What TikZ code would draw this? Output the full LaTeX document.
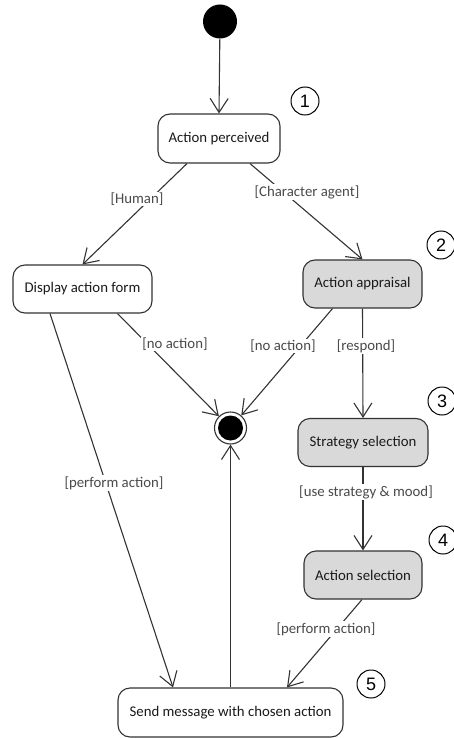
\documentclass[tikz,border=0pt]{standalone}
\usepackage{fontspec}
\setmainfont{Carlito}
\newfontfamily\numfont{Liberation Sans}
\usetikzlibrary{arrows.meta,calc}
\definecolor{ln}{HTML}{333333}
\definecolor{boxgray}{HTML}{D9D9D9}
\definecolor{lblc}{HTML}{4A4A4A}
\definecolor{txt}{HTML}{1A1A1A}
\begin{document}
\begin{tikzpicture}[x=1pt,y=-1pt,
  every node/.style={font=\fontsize{14.8}{16}\selectfont},
  state/.style={draw=ln, line width=1.1pt, rounded corners=12pt, fill=white, text=txt, inner sep=0pt, minimum height=48pt},
  grstate/.style={state, fill=boxgray},
  lbl/.style={fill=white, text=lblc, inner sep=1pt},
  arr/.style={draw=ln, line width=1.1pt, -{Straight Barb[length=14pt,width=18pt,line width=1.1pt]}},
  num/.style={circle, draw=black, line width=1pt, minimum size=28pt, inner sep=0pt, font=\numfont\fontsize{18}{18}\selectfont}
]
\useasboundingbox (0,0) rectangle (454,738);
% nodes
\node[circle, fill=black, minimum size=34pt, inner sep=0pt] (init) at (220,21.5) {};
\node[state, minimum width=122pt, minimum height=49pt] (ap) at (219,138.5) {Action perceived};
\node[state, minimum width=139pt] (daf) at (82.5,289) {Display action form};
\node[grstate, minimum width=119pt] (aa) at (362.5,284) {Action appraisal};
\node[grstate, minimum width=130pt] (ss) at (363,442.5) {Strategy selection};
\node[grstate, minimum width=118pt] (as) at (363,575) {Action selection};
\node[state, minimum width=225pt, minimum height=49pt] (snd) at (230.5,712.5) {Send message with chosen action};
\node[circle, draw=ln, line width=1.1pt, minimum size=32pt, inner sep=0pt] (fin) at (230.5,428) {};
\fill[black] (fin.center) circle (12.5);
% numbers
\node[num] (n1) at (305,101) {1};
\node[num] (n2) at (441,245) {2};
\node[num] (n3) at (442,401) {3};
\node[num] (n4) at (443,540) {4};
\node[num] (n5) at (371,684) {5};
% edges
\draw[arr] (init) -- (ap.north);
\draw[arr] ($(ap.south)+(-32,0)$) -- (daf.north);
\draw[arr] ($(ap.south)+(31,0)$) -- (aa.north);
\draw[arr] ($(daf.south)+(35,0)$) -- (fin);
\draw[arr] ($(aa.south)+(-30,0)$) -- (fin);
\draw[arr] (aa.south) -- (ss.north);
\draw[arr] (ss.south) -- (as.north);
\draw[arr] ($(as.south)+(-1,0)$) -- ($(snd.north)+(56.5,0)$);
\draw[arr] ($(daf.south)+(-32.5,0)$) -- ($(snd.north)+(-57.5,0)$);
\draw[arr] (snd.north) -- (fin.south);
% labels
\node[lbl] (l1) at (137,199) {[Human]};
\node[lbl] (l2) at (307,192) {[Character agent]};
\node[lbl] (l3) at (175,344) {[no action]};
\node[lbl] (l4) at (283,346) {[no action]};
\node[lbl] (l5) at (366,346) {[respond]};
\node[lbl] (l6) at (114,483) {[perform action]};
\node[lbl] (l7) at (366,492) {[use strategy \& mood]};
\node[lbl] (l8) at (326,629) {[perform action]};
\end{tikzpicture}
\end{document}
